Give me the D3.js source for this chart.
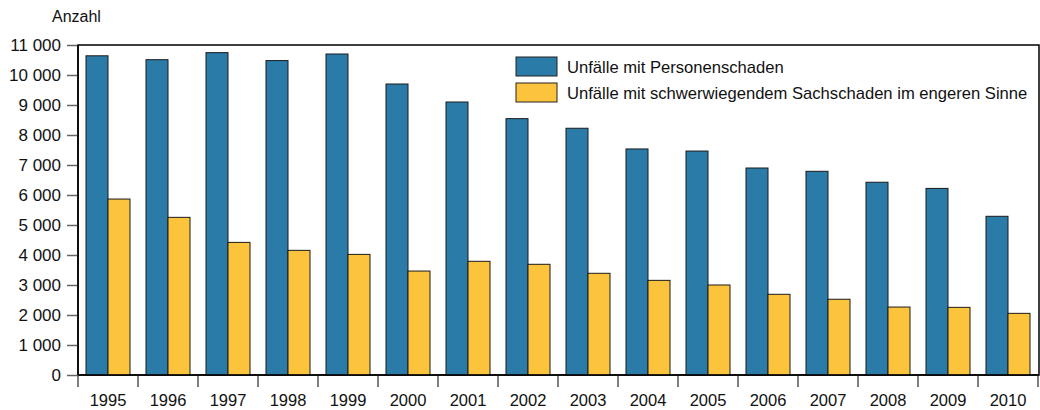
<!DOCTYPE html>
<html>
<head>
<meta charset="utf-8">
<script src="https://cdn.jsdelivr.net/npm/d3@7"></script>
<style>
  body { margin: 0; background: #fff; }
  svg { font-family: "Liberation Sans", Arial, sans-serif; }
</style>
</head>
<body>
<svg id="chart" width="1040" height="410"></svg>
<script>
// data
var years = ["1995","1996","1997","1998","1999","2000","2001","2002",
             "2003","2004","2005","2006","2007","2008","2009","2010"];
var personen = [10640, 10510, 10745, 10480, 10700, 9700, 9100, 8545,
                8225, 7535, 7465, 6900, 6790, 6425, 6220, 5290];
var sach = [5865, 5255, 4420, 4155, 4020, 3465, 3790, 3690,
            3390, 3155, 3000, 2690, 2525, 2265, 2255, 2055];
var seriesNames = ["Unfälle mit Personenschaden",
                   "Unfälle mit schwerwiegendem Sachschaden im engeren Sinne"];
var colors = ["#2b7ba8", "#fcc33d"];
var yTicks = [0,1000,2000,3000,4000,5000,6000,7000,8000,9000,10000,11000];

var svg = d3.select("#chart");
var mLeft = 78, mRight = 1038, mTop = 45, mBottom = 375;

var x0 = d3.scaleBand().domain(years).range([mLeft, mRight]).padding(0);
var x1 = d3.scaleBand().domain([0, 1]).range([0, x0.bandwidth()])
    .paddingInner(0).paddingOuter(0.3636);
var y = d3.scaleLinear().domain([0, 11000]).range([mBottom, mTop]);

var fmt = function(d) { return d3.format(",")(d).replace(/,/g, " "); };

// frame
svg.append("rect")
    .attr("x", mLeft).attr("y", mTop)
    .attr("width", mRight + 1 - mLeft).attr("height", mBottom - mTop)
    .attr("fill", "none").attr("stroke", "#000").attr("stroke-width", 1.5);

// y axis
var yAxis = svg.append("g").attr("transform", "translate(" + mLeft + ",0)")
    .call(d3.axisLeft(y).tickValues(yTicks).tickFormat(fmt).tickSize(11).tickPadding(6));
yAxis.select(".domain").remove();
yAxis.selectAll("line").attr("stroke", "#666").attr("stroke-width", 1.5);
yAxis.selectAll("text").attr("font-size", 17).attr("fill", "#111")
    .attr("font-family", "Liberation Sans, Arial, sans-serif");

// x axis (ticks on band boundaries)
var xg = svg.append("g");
var bounds = years.map(function(d) { return x0(d); }).concat([mRight]);
xg.selectAll("line").data(bounds).enter().append("line")
    .attr("x1", function(d) { return d; }).attr("x2", function(d) { return d; })
    .attr("y1", mBottom).attr("y2", mBottom + 12)
    .attr("stroke", "#555").attr("stroke-width", 1.5);
xg.selectAll("text").data(years).enter().append("text")
    .attr("x", function(d) { return x0(d) + x0.bandwidth() / 2; })
    .attr("y", 406)
    .attr("text-anchor", "middle")
    .attr("font-size", 16.5).attr("fill", "#111")
    .text(function(d) { return d; });

// bars
var rows = years.map(function(d, i) { return { year: d, vals: [personen[i], sach[i]] }; });
var groups = svg.append("g").selectAll("g").data(rows).enter().append("g")
    .attr("transform", function(d) { return "translate(" + x0(d.year) + ",0)"; });
groups.selectAll("rect")
    .data(function(d) { return d.vals.map(function(v, k) { return { k: k, v: v }; }); })
    .enter().append("rect")
    .attr("x", function(d) { return x1(d.k); })
    .attr("y", function(d) { return y(d.v); })
    .attr("width", x1.bandwidth())
    .attr("height", function(d) { return mBottom - y(d.v); })
    .attr("fill", function(d) { return colors[d.k]; })
    .attr("stroke", "#1a1a1a").attr("stroke-width", 1);

// axis lines drawn over the bars
svg.append("line").attr("x1", mLeft).attr("x2", mRight + 1)
    .attr("y1", mBottom).attr("y2", mBottom)
    .attr("stroke", "#000").attr("stroke-width", 1.5);
svg.append("line").attr("x1", mLeft).attr("x2", mLeft)
    .attr("y1", mTop).attr("y2", mBottom)
    .attr("stroke", "#000").attr("stroke-width", 1.5);

// y label
svg.append("text").attr("x", 52).attr("y", 22)
    .attr("font-size", 16).attr("fill", "#111").text("Anzahl");

// legend
var legend = svg.append("g").attr("transform", "translate(516,57)");
var li = legend.selectAll("g").data(seriesNames).enter().append("g")
    .attr("transform", function(d, i) { return "translate(0," + (i * 26) + ")"; });
li.append("rect").attr("width", 41).attr("height", 19)
    .attr("fill", function(d, i) { return colors[i]; })
    .attr("stroke", "#222").attr("stroke-width", 1);
li.append("text").attr("x", 51).attr("y", 16)
    .attr("font-size", 16.6).attr("fill", "#111")
    .text(function(d) { return d; });
</script>
</body>
</html>
